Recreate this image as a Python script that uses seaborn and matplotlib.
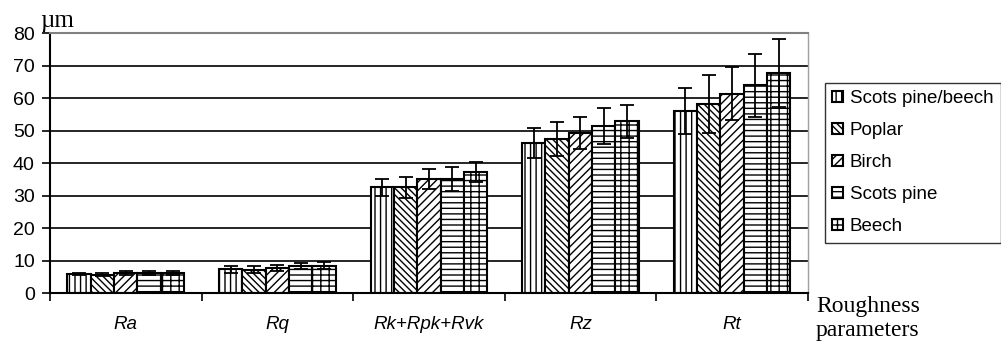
import matplotlib
matplotlib.use('Agg')
import matplotlib.pyplot as plt
import seaborn as sns
import pandas as pd
import numpy as np

# Values (micrometres)
params = ['Ra', 'Rq', 'Rk+Rpk+Rvk', 'Rz', 'Rt']
species = ['Scots pine/beech', 'Poplar', 'Birch', 'Scots pine', 'Beech']

scots_pine_beech = [6.0, 7.4, 32.6, 46.3, 56.1]
poplar = [5.8, 7.3, 32.6, 47.4, 58.2]
birch = [6.3, 7.8, 35.2, 49.4, 61.5]
scots_pine = [6.3, 8.4, 35.2, 51.5, 64.1]
beech = [6.3, 8.5, 37.3, 52.9, 67.8]

err_scots_pine_beech = [0.4, 1.0, 2.6, 4.6, 7.0]
err_poplar = [0.4, 1.0, 3.2, 5.2, 9.0]
err_birch = [0.5, 1.0, 3.0, 5.0, 8.2]
err_scots_pine = [0.5, 0.8, 3.8, 5.6, 9.7]
err_beech = [0.5, 1.0, 3.0, 5.0, 10.4]

means = [scots_pine_beech, poplar, birch, scots_pine, beech]
errs = [err_scots_pine_beech, err_poplar, err_birch, err_scots_pine, err_beech]
# last one is a rough stand-in for the brick pattern
hatches = ['|||', '\\\\\\\\\\', '////', '---', '++-']

rows = []
for sp, vals in zip(species, means):
    for p, v in zip(params, vals):
        rows.append({'param': p, 'value': v, 'species': sp})
df = pd.DataFrame(rows)

plt.rcParams['font.family'] = ['Liberation Sans', 'DejaVu Sans']
plt.rcParams['hatch.linewidth'] = 1.0

fig = plt.figure(figsize=(10.01, 3.48), dpi=100)
ax = fig.add_axes([0.05, 0.157, 0.757, 0.747])

sns.barplot(data=df, x='param', y='value', hue='species', palette=['white'] * 5,
            edgecolor='black', linewidth=1.5, width=0.77, errorbar=None,
            legend=False, ax=ax, saturation=1)

bar_conts = list(ax.containers)

# hatch patterns + error bars per series
for cont, h, e in zip(bar_conts, hatches, errs):
    xs, ys = [], []
    for bar in cont.patches:
        bar.set_hatch(h)
        bar.set_zorder(2)
        xs.append(bar.get_x() + bar.get_width() / 2)
        ys.append(bar.get_height())
    ax.errorbar(xs, ys, yerr=e, fmt='none', ecolor='black', elinewidth=1.3,
                capsize=5, capthick=1.3, zorder=3)

ax.set_ylim(0, 80)
ax.set_xlim(-0.5, 4.5)
ax.set_yticks(range(0, 81, 10))
ax.yaxis.grid(True, color='black', linewidth=1.2)
ax.set_axisbelow(True)
ax.tick_params(axis='y', length=6, width=1.2, pad=5, labelsize=14)

# ticks at group boundaries, labels at group centres
ax.set_xticks(np.arange(-0.5, 5, 1))
ax.set_xticklabels([])
ax.set_xticks(range(5), minor=True)
ax.set_xticklabels(params, minor=True, style='italic', fontsize=13.5)
ax.tick_params(axis='x', which='major', length=6, width=1.2)
ax.tick_params(axis='x', which='minor', length=0, pad=16)
ax.set_xlabel('')
ax.set_ylabel('')

for s in ['left', 'bottom']:
    ax.spines[s].set_color('black')
    ax.spines[s].set_linewidth(1.5)
ax.spines['top'].set_color('#808080')
ax.spines['top'].set_linewidth(1.5)
ax.spines['right'].set_color('#a0a0a0')
ax.spines['right'].set_linewidth(1.0)

handles = [c.patches[0] for c in bar_conts]
leg = fig.legend(handles, species, loc='lower left', bbox_to_anchor=(0.824, 0.303),
                 borderaxespad=0, fontsize=13.5, frameon=True, fancybox=False,
                 handlelength=0.6, handleheight=0.55, handletextpad=0.35,
                 labelspacing=0.8, borderpad=0.38)
leg.get_frame().set_edgecolor('black')
leg.get_frame().set_linewidth(1.0)

fig.text(40 / 1001, 1 - 27 / 348, '\u00b5m', family='Liberation Serif', fontsize=18,
         va='baseline', ha='left')
fig.text(816 / 1001, 1 - 296 / 348, 'Roughness\nparameters', family='Liberation Serif',
         fontsize=17, va='top', ha='left', linespacing=1.2)

fig.savefig('out.png', dpi=100)
